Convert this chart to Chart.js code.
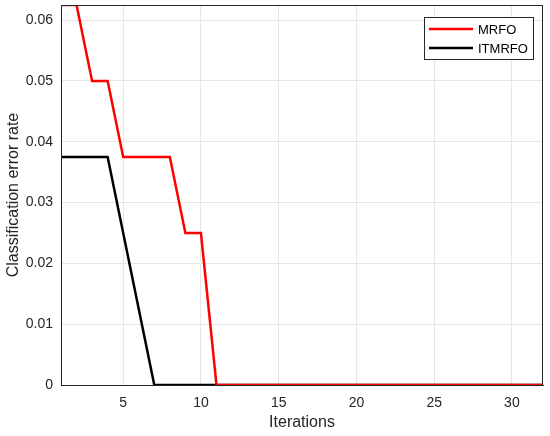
<!DOCTYPE html>
<html>
<head>
<meta charset="utf-8">
<script src="https://cdn.jsdelivr.net/npm/chart.js@4"></script>
<style>
  html, body { margin: 0; padding: 0; background: #fff; }
  #wrap { width: 550px; height: 436px; }
</style>
</head>
<body>
<div id="wrap"><canvas id="grafik" width="550" height="436"></canvas></div>
<script>
// === DATA ===
const iterations = [1, 2, 3, 4, 5, 6, 7, 8, 9, 10, 11, 12, 13, 14, 15, 16,
  17, 18, 19, 20, 21, 22, 23, 24, 25, 26, 27, 28, 29, 30, 31, 32];
const mrfo = [0.0625, 0.0625, 0.05, 0.05, 0.0375, 0.0375, 0.0375, 0.0375, 0.025, 0.025,
  0, 0, 0, 0, 0, 0, 0, 0, 0, 0, 0, 0, 0, 0, 0, 0, 0, 0, 0, 0, 0, 0];
const itmrfo = [0.0375, 0.0375, 0.0375, 0.0375, 0.025, 0.0125, 0, 0, 0, 0,
  0, 0, 0, 0, 0, 0, 0, 0, 0, 0, 0, 0, 0, 0, 0, 0, 0, 0, 0, 0, 0, 0];
const xTicks = [5, 10, 15, 20, 25, 30];
const yTicks = [0, 0.01, 0.02, 0.03, 0.04, 0.05, 0.06];

const FONT = "'Liberation Sans', Arial, sans-serif";

function toPoints(values) {
  return iterations.map((it, i) => ({ x: it, y: values[i] }));
}

// kotak di sekeliling area plot + legenda gaya MATLAB
const boxLegend = {
  id: "boxLegend",
  afterDatasetsDraw(chart) {
    const { ctx, chartArea: a } = chart;
    ctx.save();
    ctx.strokeStyle = "#262626";
    ctx.lineWidth = 1;
    ctx.strokeRect(a.left + 0.5, a.top + 0.5, a.right - a.left - 1, a.bottom - a.top);

    // legenda
    const w = 109, h = 42;
    const x = a.right - 10 - w, y = a.top + 12;
    ctx.fillStyle = "#fff";
    ctx.fillRect(x, y, w, h);
    ctx.strokeRect(x + 0.5, y + 0.5, w, h);
    ctx.font = "13px " + FONT;
    ctx.textBaseline = "middle";
    chart.data.datasets.forEach((ds, i) => {
      const ly = y + 12 + i * 19;
      ctx.strokeStyle = ds.borderColor;
      ctx.lineWidth = 2.5;
      ctx.beginPath();
      ctx.moveTo(x + 5, ly);
      ctx.lineTo(x + 49, ly);
      ctx.stroke();
      ctx.fillStyle = "#000";
      ctx.fillText(ds.label, x + 54, ly + 1);
    });
    ctx.restore();
  }
};

new Chart(document.getElementById("grafik").getContext("2d"), {
  type: "line",
  data: {
    datasets: [
      { label: "MRFO", data: toPoints(mrfo), borderColor: "#ff0000", borderWidth: 2.5, pointRadius: 0, tension: 0, fill: false },
      { label: "ITMRFO", data: toPoints(itmrfo), borderColor: "#000000", borderWidth: 2.5, pointRadius: 0, tension: 0, fill: false }
    ]
  },
  options: {
    responsive: false,
    animation: false,
    layout: { padding: { left: 0, top: 5, right: 7, bottom: 0 } },
    plugins: { legend: { display: false }, tooltip: { enabled: false } },
    scales: {
      x: {
        type: "linear",
        min: 1,
        max: 32,
        afterBuildTicks: axis => { axis.ticks = xTicks.map(v => ({ value: v })); },
        afterFit: axis => { axis.height = 51; axis.paddingLeft = 0; axis.paddingRight = 0; },
        grid: { color: "#e6e6e6", drawTicks: false },
        border: { color: "#262626" },
        ticks: { font: { family: FONT, size: 14 }, color: "#262626", padding: 10, maxRotation: 0 },
        title: { display: true, text: "Iterations", font: { family: FONT, size: 16 }, color: "#262626", padding: { top: 1 } }
      },
      y: {
        min: 0,
        max: 0.0625,
        afterBuildTicks: axis => { axis.ticks = yTicks.map(v => ({ value: v })); },
        afterFit: axis => { axis.width = 61; axis.paddingTop = 0; axis.paddingBottom = 0; },
        grid: { color: "#e6e6e6", drawTicks: false },
        border: { color: "#262626" },
        ticks: {
          font: { family: FONT, size: 14 }, color: "#262626", padding: 8,
          callback: v => (v === 0 ? "0" : v.toFixed(2))
        },
        title: { display: true, text: "Classification error rate", font: { family: FONT, size: 16 }, color: "#262626", padding: { bottom: 0 } }
      }
    }
  },
  plugins: [boxLegend]
});
</script>
</body>
</html>
